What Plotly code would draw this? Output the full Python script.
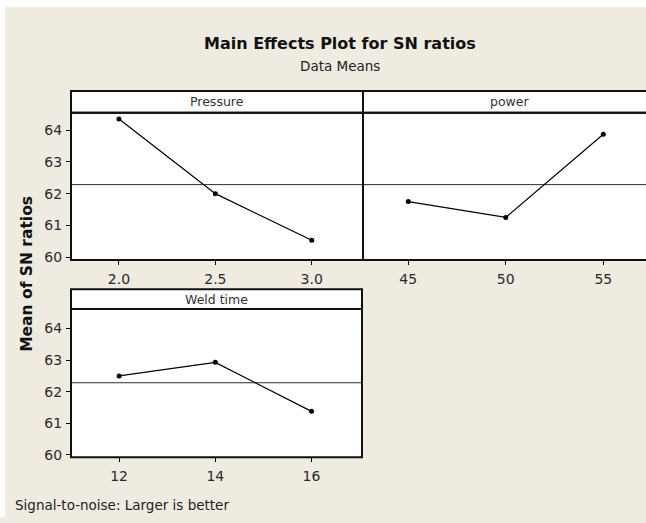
import numpy as np
import plotly.graph_objects as go

W, H = 646, 523

# Data
factors = ["Pressure", "power", "Weld time"]
pressure_levels = [2.0, 2.5, 3.0]
pressure_sn = [64.35, 62.0, 60.53]
power_levels = [45, 50, 55]
power_sn = [61.75, 61.25, 63.87]
weld_levels = [12, 14, 16]
weld_sn = [62.5, 62.93, 61.38]
y_ticks = [60, 61, 62, 63, 64]
grand_mean = float(np.mean(pressure_sn + power_sn + weld_sn))

FONT = "DejaVu Sans, sans-serif"
BG = "#efebe1"

def px(x):
    return x / W

def py(y):
    return 1 - y / H

# panel geometry in pixels: (left, right, strip_top, data_top, data_bottom)
panels = [
    (71, 363, 92, 114, 263),
    (363, 655, 92, 114, 263),
    (71, 362, 292.5, 312.5, 462.5),
]
xranges = [[1.751, 3.266], [42.68, 57.65], [11.0, 17.05]]
yranges = [[59.91, 64.55], [59.91, 64.55], [59.93, 64.62]]
levels = [pressure_levels, power_levels, weld_levels]
values = [pressure_sn, power_sn, weld_sn]
xtickvals = [[2.0, 2.5, 3.0], [45, 50, 55], [12, 14, 16]]
xticktext = [["2.0", "2.5", "3.0"], ["45", "50", "55"], ["12", "14", "16"]]

fig = go.Figure()
layout = dict(
    width=W, height=H,
    margin=dict(l=0, r=0, t=0, b=0),
    paper_bgcolor=BG,
    plot_bgcolor="white",
    showlegend=False,
    font=dict(family=FONT, size=12, color="#222"),
)
shapes = [
    dict(type="rect", xref="paper", yref="paper", x0=0, x1=1.0,
         y0=py(7), y1=1.0, fillcolor="white", line=dict(width=0)),
    dict(type="rect", xref="paper", yref="paper", x0=0, x1=px(5),
         y0=0, y1=1.0, fillcolor="white", line=dict(width=0)),
]
annotations = []
TICKFONT = dict(size=14, family=FONT, color="#2a2a2a")

for i, (l, r, st, dt, db) in enumerate(panels):
    n = "" if i == 0 else str(i + 1)
    xa, ya = "x" + n, "y" + n
    fig.add_trace(go.Scatter(
        x=[xranges[i][0], xranges[i][1]], y=[grand_mean, grand_mean],
        mode="lines", xaxis=xa, yaxis=ya,
        line=dict(color="#2e2e2e", width=1), hoverinfo="skip",
    ))
    fig.add_trace(go.Scatter(
        x=levels[i], y=values[i], mode="lines+markers", xaxis=xa, yaxis=ya,
        line=dict(color="black", width=1.2),
        marker=dict(color="black", size=5, symbol="circle"),
        cliponaxis=False,
    ))
    rr = min(r, W)
    layout["xaxis" + n] = dict(
        domain=[px(l), px(rr)],
        range=[xranges[i][0], xranges[i][0] + (xranges[i][1] - xranges[i][0]) * (rr - l) / (r - l)],
        anchor=ya, tickvals=xtickvals[i], ticktext=xticktext[i],
        ticks="outside", ticklen=4, tickcolor="black", showgrid=False,
        zeroline=False, showline=False, tickfont=TICKFONT, ticklabelstandoff=2,
        fixedrange=True,
    )
    yd = dict(
        domain=[py(db), py(dt)], range=yranges[i], anchor=xa,
        showgrid=False, zeroline=False, showline=False, fixedrange=True,
    )
    if i != 1:
        yd.update(tickvals=y_ticks, ticks="outside", ticklen=4, tickcolor="black",
                  tickfont=TICKFONT, ticklabelstandoff=1)
    else:
        yd.update(showticklabels=False)
    layout["yaxis" + n] = yd

    # strip
    shapes.append(dict(type="rect", xref="paper", yref="paper",
                       x0=px(l), x1=px(r), y0=py(dt), y1=py(st),
                       fillcolor="white", line=dict(color="#111", width=2)))
    # data frame
    shapes.append(dict(type="rect", xref="paper", yref="paper",
                       x0=px(l), x1=px(r), y0=py(db), y1=py(dt),
                       line=dict(color="#111", width=2)))
    annotations.append(dict(text=factors[i], xref="paper", yref="paper",
                            x=px((l + r) / 2), y=py((st + dt) / 2),
                            showarrow=False, xanchor="center", yanchor="middle",
                            font=dict(size=12.5, family=FONT, color="#333")))

annotations += [
    dict(text="<b>Main Effects Plot for SN ratios</b>", xref="paper", yref="paper",
         x=px(340), y=py(44), showarrow=False, xanchor="center", yanchor="middle",
         font=dict(size=16, family=FONT, color="#111")),
    dict(text="Data Means", xref="paper", yref="paper",
         x=px(340), y=py(67), showarrow=False, xanchor="center", yanchor="middle",
         font=dict(size=13.5, family=FONT, color="#222")),
    dict(text="<b>Mean of SN ratios</b>", xref="paper", yref="paper",
         x=px(27), y=py(277), showarrow=False, xanchor="center", yanchor="middle",
         textangle=-90, font=dict(size=15.5, family=FONT, color="#111")),
    dict(text="Signal-to-noise: Larger is better", xref="paper", yref="paper",
         x=px(13), y=py(511), showarrow=False, xanchor="left", yanchor="middle",
         font=dict(size=13.5, family=FONT, color="#222")),
]

layout["shapes"] = shapes
layout["annotations"] = annotations
fig.update_layout(**layout)
fig.write_html("out.html", config={"displayModeBar": False, "staticPlot": True},
               post_script="document.body.style.margin='0';document.body.style.overflow='hidden';")
